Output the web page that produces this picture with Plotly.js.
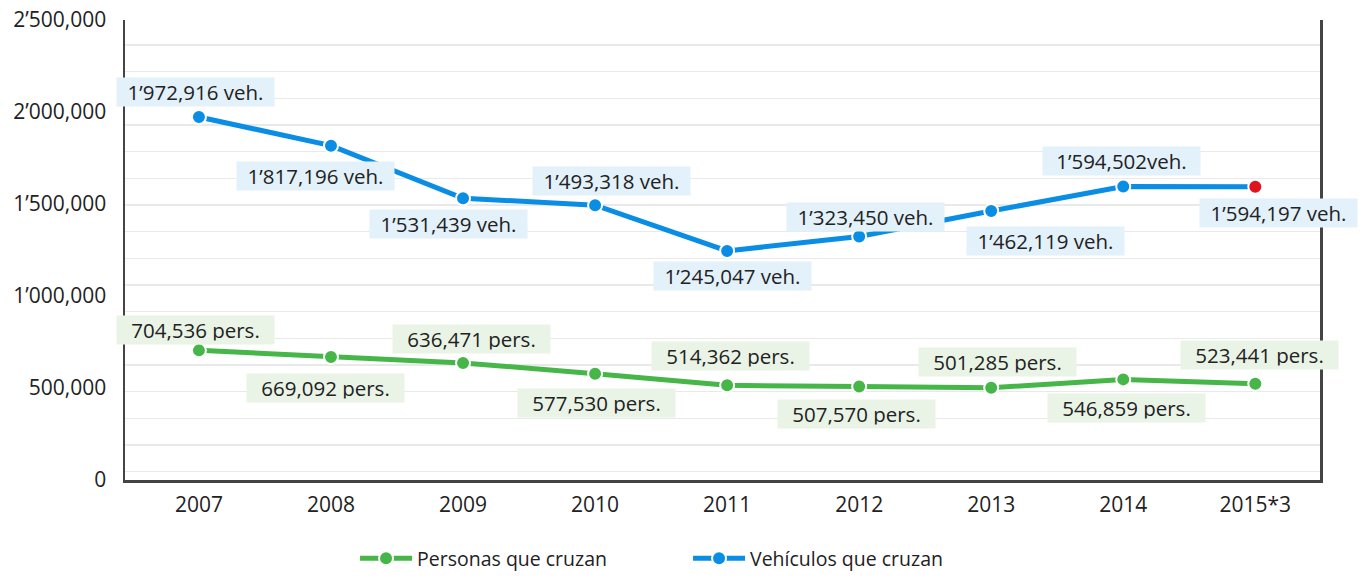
<!DOCTYPE html>
<html>
<head>
<meta charset="utf-8">
<script src="https://cdn.plot.ly/plotly-3.0.1.min.js"></script>
<style>html,body{margin:0;padding:0;background:#fff}#chart{width:1364px;height:577px}</style>
</head>
<body>
<div id="chart"></div>
<script>
// ---- data ----
const years = ['2007','2008','2009','2010','2011','2012','2013','2014','2015*3'];
const vehiculos = [1972916, 1817196, 1531439, 1493318, 1245047, 1323450, 1462119, 1594502, 1594197];
const personas = [704536, 669092, 636471, 577530, 514362, 507570, 501285, 546859, 523441];
const vehLabels = ['1’972,916 veh.','1’817,196 veh.','1’531,439 veh.','1’493,318 veh.','1’245,047 veh.','1’323,450 veh.','1’462,119 veh.','1’594,502veh.','1’594,197 veh.'];
const persLabels = ['704,536 pers.','669,092 pers.','636,471 pers.','577,530 pers.','514,362 pers.','507,570 pers.','501,285 pers.','546,859 pers.','523,441 pers.'];
const yTickVals = [0, 500000, 1000000, 1500000, 2000000, 2500000];
const yTickText = ['0','500,000','1’000,000','1’500,000','2’000,000','2’500,000'];
const seriesNames = ['Personas que cruzan','Vehículos que cruzan'];

// ---- styles ----
const GREEN = '#47b649', BLUE = '#0a8de4', RED = '#e0141c';
const FONT = 'Open Sans, sans-serif';
const TXT = '#222222';
// label offsets [xshift, yshift] in px
const vehOff = [[-3,25],[-15,-30],[-15,-26],[16,24],[5,-25],[6,19],[54,-30],[-2,26],[23,-26]];
const persOff = [[-3,20],[-5,-31],[8,24],[1,-29],[3,29],[-3,-27],[6,26],[3,-29],[4,29]];

const vehColors = vehiculos.map((v,i)=> i===vehiculos.length-1 ? RED : BLUE);

const traces = [
  {x: years, y: personas, name: seriesNames[0], type:'scatter', mode:'lines+markers',
   line:{color:GREEN, width:5}, marker:{color:GREEN, size:14, line:{color:'#fff', width:2}}},
  {x: years, y: vehiculos, name: seriesNames[1], type:'scatter', mode:'lines+markers',
   line:{color:BLUE, width:5}, marker:{color:vehColors, size:14, line:{color:'#fff', width:2}}}
];

const annotations = [];
function addLabels(vals, labels, off, bg){
  vals.forEach((v,i)=>{
    annotations.push({x: i, y: v, xref:'x', yref:'y', text: labels[i], showarrow:false,
      xshift: off[i][0], yshift: off[i][1], bgcolor: bg, width:150, height:21, borderpad:3.5,
      font:{family:FONT, size:20.5, color:TXT}});
  });
}
addLabels(vehiculos, vehLabels, vehOff, '#e3f1fb');
addLabels(personas, persLabels, persOff, '#e9f4e6');

const layout = {
  width:1364, height:577,
  margin:{l:125, r:44, t:20, b:97, autoexpand:false},
  paper_bgcolor:'#fff', plot_bgcolor:'#fff',
  font:{family:FONT, color:TXT},
  showlegend:true,
  legend:{orientation:'h', xref:'container', x:0.2603, xanchor:'left',
    yref:'container', y:0.032, yanchor:'middle',
    font:{family:FONT, size:19.5, color:TXT}, entrywidth:266, itemwidth:52},
  xaxis:{type:'category', range:[-0.56, 8.49], showgrid:false, zeroline:false,
    showline:true, linecolor:'#444', linewidth:2.5, ticks:'', ticklabelstandoff:4,
    tickfont:{family:FONT, size:21, color:TXT}, fixedrange:true},
  yaxis:{range:[0, 2500000], tickmode:'array', tickvals:yTickVals, ticktext:yTickText,
    showgrid:false, zeroline:false, showline:true, mirror:true, linecolor:'#444', linewidth:2.5,
    ticks:'', ticklabelstandoff:12, tickfont:{family:FONT, size:21, color:TXT},
    minor:{tickmode:'linear', tick0:190200, dtick:144900, showgrid:true, gridcolor:'#e9e9e9', gridwidth:1.5, ticks:''},
    fixedrange:true},
  annotations: annotations
};

Plotly.newPlot('chart', traces, layout, {displayModeBar:false, staticPlot:true});
</script>
</body>
</html>
